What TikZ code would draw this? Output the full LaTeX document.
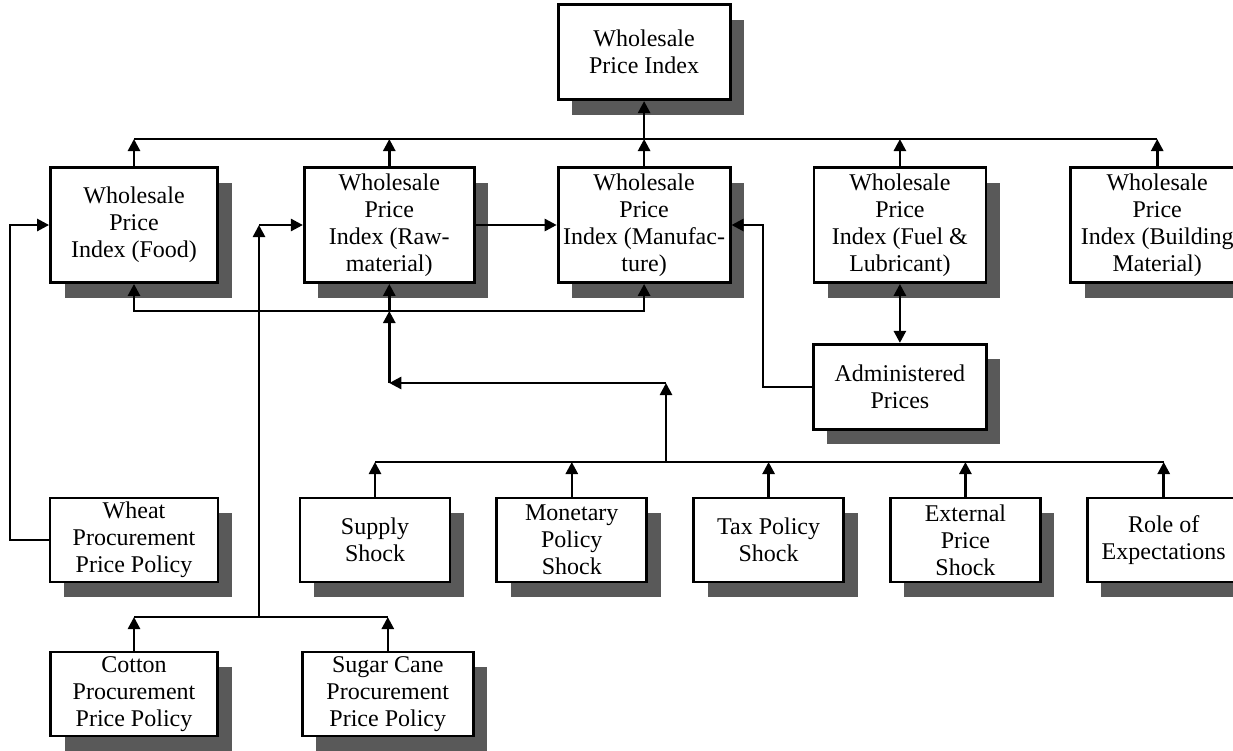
\documentclass[tikz,border=0pt]{standalone}
\usepackage{fontspec}
\setmainfont{Liberation Serif}
\usetikzlibrary{positioning, arrows.meta, shadows}

\begin{document}
\begin{tikzpicture}[x=1pt, y=-1pt, >={Triangle[length=12pt, width=12pt]},
    box/.style={draw, line width=2.8pt, fill=white, align=center, inner sep=2pt,
        font=\fontsize{24}{27}\selectfont,
        drop shadow={shadow xshift=14pt, shadow yshift=-15pt, fill=black!65, opacity=1}},
    big/.style={box, minimum width=170pt, minimum height=115pt},
    small/.style={box, minimum width=150pt, minimum height=84pt},
    link/.style={line width=2.6pt},
    arr/.style={link, ->}]
    \useasboundingbox (0,0) rectangle (1233,750);

    % Price indices
    \node (food) [big, minimum width=167pt] at (134,225) {Wholesale\\Price\\Index (Food)};
    \node (raw) [big, right=84pt of food] {Wholesale\\Price\\Index (Raw-\\material)};
    \node (manuf) [big, minimum width=172pt, right=81pt of raw] {Wholesale\\Price\\Index (Manufac-\\ture)};
    \node (fuel) [big, minimum width=172pt, right=81pt of manuf] {Wholesale\\Price\\Index (Fuel \&\\Lubricant)};
    \node (building) [big, minimum width=173pt, right=82pt of fuel] {Wholesale\\Price\\Index (Building\\Material)};
    \node (wpi) [box, minimum width=172pt, minimum height=95pt, above=65pt of manuf] {Wholesale\\Price Index};
    \node (admin) [box, minimum width=173pt, minimum height=85pt, below=59pt of fuel] {Administered\\Prices};

    % Shocks
    \node (supply) [small] at (375,540) {Supply\\Shock};
    \node (monetary) [small, right=44pt of supply] {Monetary\\Policy\\Shock};
    \node (tax) [small, right=44pt of monetary] {Tax Policy\\Shock};
    \node (external) [small, right=44pt of tax] {External\\Price\\Shock};
    \node (role) [small, minimum width=153pt, right=44pt of external] {Role of\\Expectations};

    % Procurement policies
    \node (wheat) [small, minimum width=168pt] at (134,540) {Wheat\\Procurement\\Price Policy};
    \node (cotton) [small, minimum width=167pt] at (134,694) {Cotton\\Procurement\\Price Policy};
    \node (sugar) [small, minimum width=171pt, right=82pt of cotton] {Sugar Cane\\Procurement\\Price Policy};

    % Bus lines and turning points
    \coordinate (top) at (0,139);
    \coordinate (loop) at (0,311);
    \coordinate (turn) at (666,383);
    \coordinate (shk) at (0,462);
    \coordinate (csb) at (0,617);
    \coordinate (wl) at (10,0);
    \coordinate (rl) at (259,0);
    \coordinate (al) at (763,0);

    % Indices to the overall index
    \draw[link] (food.north |- top) -- (building.north |- top);
    \foreach \n in {food, raw, manuf, fuel, building}
        \draw[arr] (\n.north) -- (\n.north |- top);
    \draw[arr] (manuf.north |- top) -- (wpi.south);

    % Links between indices
    \draw[arr] (raw) -- (manuf);
    \draw[link, <->] (food.south) -- (food.south |- loop) -| (manuf.south);
    \draw[link, <->] (fuel.south) -- (admin.north);
    \draw[arr] (admin.west) -| (al |- manuf) -- (manuf.east);

    % Shocks to raw material
    \draw[link] (supply.north |- shk) -- (role.north |- shk);
    \foreach \n in {supply, monetary, tax, external, role}
        \draw[arr] (\n.north) -- (\n.north |- shk);
    \draw[arr] (turn |- shk) -- (turn);
    \draw[arr] (turn) -- (raw.south |- turn);
    \draw[arr] (raw.south |- turn) -- (raw.south |- loop);
    \draw[arr] (raw.south |- loop) -- (raw.south);

    % Procurement policies
    \draw[arr] (wheat.west) -| (wl |- food) -- (food.west);
    \draw[link] (cotton.north |- csb) -- (sugar.north |- csb);
    \foreach \n in {cotton, sugar}
        \draw[arr] (\n.north) -- (\n.north |- csb);
    \draw[arr] (rl |- csb) -- (rl |- raw);
    \draw[arr] (rl |- raw) -- (raw.west);
\end{tikzpicture}
\end{document}
